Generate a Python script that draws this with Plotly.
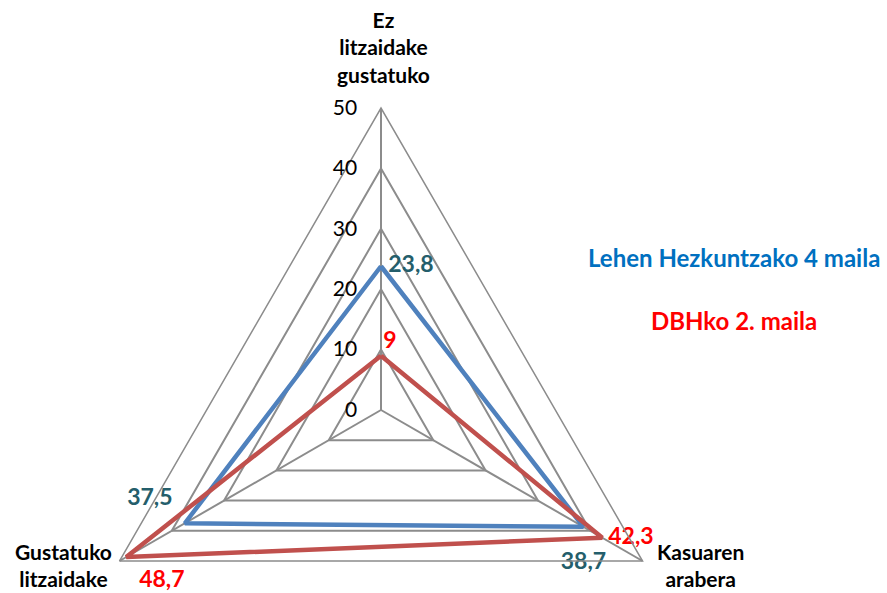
import plotly.graph_objects as go

# Survey answers (percent) for two school years
categories = ["Ez<br>litzaidake<br>gustatuko", "Kasuaren<br>arabera", "Gustatuko<br>litzaidake"]
lehen_values = [23.8, 38.7, 37.5]
dbh_values = [9, 42.3, 48.7]
lehen_labels = ["23,8", "38,7", "37,5"]
dbh_labels = ["9", "42,3", "48,7"]
series_names = ["Lehen Hezkuntzako 4 maila", "DBHko 2. maila"]
radial_ticks = [0, 10, 20, 30, 40, 50]

FONT = "Lato"
W, H = 887, 720
GRID = "#8C8C8C"


def closed(seq):
    return list(seq) + [seq[0]]


def series_trace(values, labels, name, line_color, text_color, positions, offsets):
    # offsets: sizes of invisible markers, used only to push each value label off its vertex
    return go.Scatterpolar(
        r=closed(values),
        theta=closed(categories),
        mode="lines+markers+text",
        line=dict(color=line_color, width=4.5),
        marker=dict(size=closed(offsets), color="rgba(0,0,0,0)", line=dict(width=0)),
        text=list(labels) + [""],
        textposition=closed(positions),
        textfont=dict(family=FONT, size=23, color=text_color, weight="bold"),
        name=name,
        showlegend=False,
        hoverinfo="r+theta+name",
    )


fig = go.Figure()
fig.add_trace(series_trace(lehen_values, lehen_labels, series_names[0], "#4F81BD", "#245E6B",
                           ["middle right", "bottom center", "top left"], [10, 38, 18]))
fig.add_trace(series_trace(dbh_values, dbh_labels, series_names[1], "#C0504D", "#FF0000",
                           ["top right", "middle right", "bottom right"], [2, 8, 19]))


def category_note(text, x_px, y_px):
    return dict(text=text, x=x_px / W, y=(H - y_px) / H, xref="paper", yref="paper",
                showarrow=False, xanchor="center", yanchor="middle", align="center",
                font=dict(family=FONT, size=21, color="black", weight="bold"))


def legend_note(text, color, y_px):
    return dict(text=text, x=734 / W, y=(H - y_px) / H, xref="paper", yref="paper",
                showarrow=False, xanchor="center", yanchor="middle",
                font=dict(family=FONT, size=24, color=color, weight="bold"))


fig.update_layout(
    width=W,
    height=H,
    margin=dict(l=0, r=0, t=0, b=0),
    paper_bgcolor="white",
    plot_bgcolor="white",
    polar=dict(
        domain=dict(x=[79 / W, 683 / W], y=[(H - 712) / H, (H - 108) / H]),
        bgcolor="white",
        gridshape="linear",
        radialaxis=dict(
            range=[0, 50],
            tickvals=radial_ticks,
            ticktext=[str(v) for v in radial_ticks],
            angle=90,
            tickangle=90,
            side="counterclockwise",
            showline=False,
            ticks="outside",
            ticklen=16,
            tickcolor="rgba(0,0,0,0)",
            gridcolor=GRID,
            gridwidth=1.5,
            tickfont=dict(family=FONT, size=21, color="black"),
        ),
        angularaxis=dict(
            rotation=90,
            direction="clockwise",
            categoryorder="array",
            categoryarray=categories,
            showline=True,
            linecolor=GRID,
            linewidth=1.5,
            gridcolor=GRID,
            gridwidth=1.5,
            ticks="",
            showticklabels=False,
        ),
    ),
    annotations=[
        category_note(categories[0], 383, 47),
        category_note(categories[1], 700, 565),
        category_note(categories[2], 63, 565),
        legend_note(series_names[0], "#0070C0", 258),
        legend_note(series_names[1], "#FF0000", 320),
    ],
)

fig.write_html(
    "out.html",
    post_script="document.body.style.margin='0';document.body.style.overflow='hidden';",
)
